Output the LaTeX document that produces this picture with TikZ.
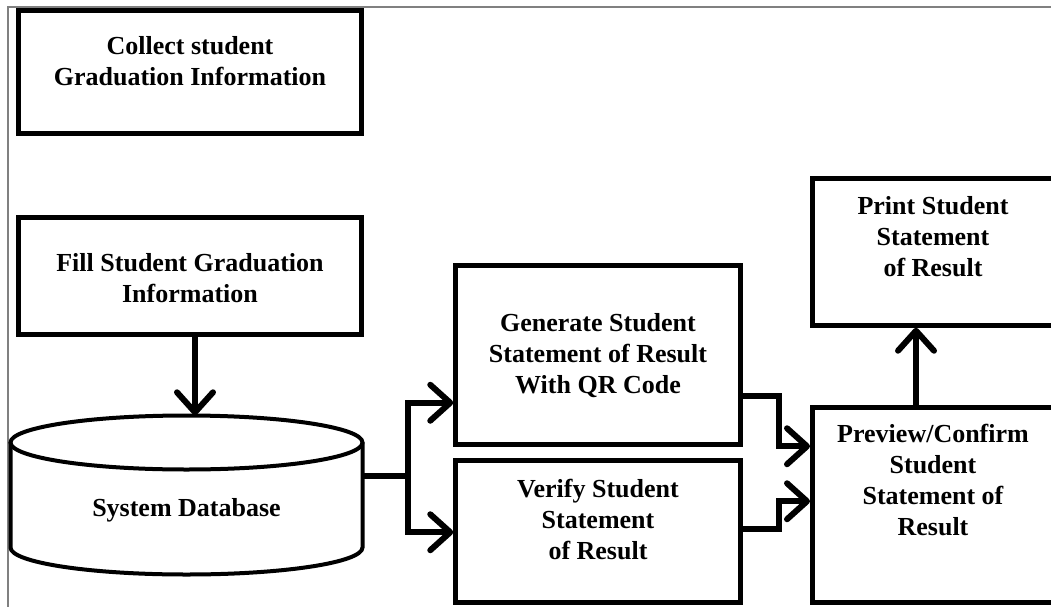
\documentclass[tikz,border=0pt]{standalone}
\usepackage{fontspec}
\setmainfont{Liberation Serif}
\usetikzlibrary{arrows.meta}

\begin{document}
\begin{tikzpicture}[x=1pt, y=-1pt,
  box/.style={draw, line width=4.5pt, inner sep=0pt},
  lbl/.style={align=center, font=\fontsize{26}{31}\selectfont\bfseries},
  arr/.style={line width=6pt, -{Straight Barb[length=20pt,width=36pt,line cap=round,line join=round]}}]
  \useasboundingbox (0,0) rectangle (1051,607);

  % Thin frame on the top and left side
  \draw[gray, line width=1.2pt] (8,607) -- (8,7) -- (1051,7);

  % Left column: collect, fill and the database
  \node[box, minimum width=343pt, minimum height=123pt] (collect) at (190,72) {};
  \node[lbl] (collecttxt) at (190,61) {Collect student\\Graduation Information};

  \node[box, minimum width=343pt, minimum height=117pt] (fill) at (190,276) {};
  \node[lbl] (filltxt) at (190,278) {Fill Student Graduation\\Information};

  % database drawn as a cylinder around its node
  \node[minimum width=352pt, minimum height=159pt, inner sep=0pt] (db) at (186.5,495) {};
  \draw[line width=4pt] (186.5,442.5) ellipse [x radius=176, y radius=27];
  \draw[line width=4pt] (10.5,442.5) -- (10.5,547.5)
    arc [start angle=180, end angle=0, x radius=176, y radius=27] -- (362.5,442.5);
  \node[lbl] (dbtxt) at (186.5,510) {System Database};

  % Middle column: generate and verify
  \node[box, minimum width=285pt, minimum height=179pt] (gen) at (598,355) {};
  \node[lbl] (gentxt) at (598,356) {Generate Student\\Statement of Result\\With QR Code};

  \node[box, minimum width=285pt, minimum height=142pt] (ver) at (598,531.5) {};
  \node[lbl] (vertxt) at (598,519) {Verify Student\\Statement\\of Result};

  % Right column: preview and print
  \node[box, minimum width=241.5pt, minimum height=195pt] (prev) at (933,505) {};
  \node[lbl] (prevtxt) at (933,480) {Preview/Confirm\\Student\\Statement of\\Result};

  \node[box, minimum width=241.5pt, minimum height=147pt] (print) at (933,252) {};
  \node[lbl] (printtxt) at (933,237) {Print Student\\Statement\\of Result};

  % Connectors
  \draw[arr] ([xshift=5pt]fill.south) -- ([xshift=5pt]fill.south |- db.north);

  \coordinate (split) at (408,475.5);
  \draw[line width=6pt] ([yshift=19.5pt]db.east) -- (split);
  \draw[arr] (split) |- ([yshift=44pt]gen.south west);
  \draw[arr] (split) |- ([yshift=-74pt]ver.north west);

  \draw[arr] ([yshift=51pt]gen.south east) -- ++(36,0) |- ([yshift=-41pt]prev.north west);
  \draw[arr] ([yshift=-71pt]ver.north east) -- ++(36,0) |- ([yshift=-96pt]prev.north west);

  \draw[arr] ([xshift=106pt]prev.north west) -- ([xshift=106pt]print.south west);
\end{tikzpicture}
\end{document}
